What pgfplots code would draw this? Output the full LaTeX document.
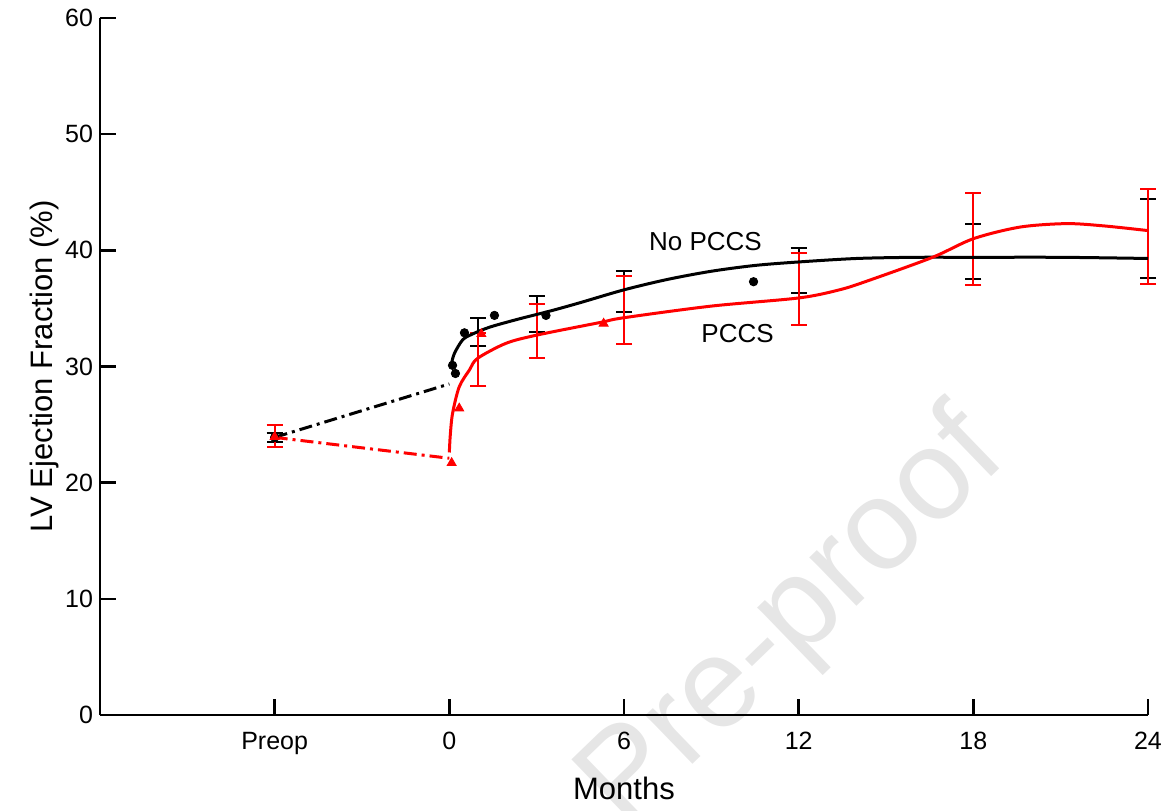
\documentclass[border=0pt]{standalone}
\usepackage{fontspec}
\setmainfont{Liberation Sans}
\usepackage{pgfplots}
\pgfplotsset{compat=1.18}
\definecolor{pccsred}{RGB}{255,0,0}
\definecolor{wmgray}{RGB}{230,230,230}

\begin{document}
\begin{tikzpicture}
  % watermark behind the chart
  \node[rotate=44, text=wmgray, font=\fontsize{64}{64}\selectfont] at (347pt,47pt) {Pre-proof};

  \begin{axis}[
    name=ax,
    at={(0,0)}, anchor=south west,
    scale only axis,
    width=524pt, height=348.5pt,
    xmin=-12, xmax=24, ymin=0, ymax=60,
    axis x line=bottom, axis y line=left,
    axis line style={-, line width=1.2pt},
    tick style={line width=1.2pt, black},
    tick align=inside,
    major tick length=8pt,
    xtick={-6,0,6,12,18,24},
    xticklabels={Preop,0,6,12,18,24},
    ytick={0,10,...,60},
    /pgf/number format/assume math mode=true,
    tick label style={font=\fontsize{12.5}{13}\selectfont},
    xticklabel style={yshift=-5pt},
    every axis x label/.style={at={(axis description cs:0.5,-0.106)}, anchor=center},
    every axis y label/.style={at={(axis description cs:-0.0525,0.5)}, rotate=90, anchor=center},
    label style={font=\fontsize{15.5}{16}\selectfont},
    xlabel={Months},
    ylabel={LV Ejection Fraction (\%)},
    clip=false,
  ]

    % extrapolation from preop to time 0
    \addplot[black, line width=1.5pt, dash pattern=on 6.5pt off 2.5pt on 1.5pt off 2.5pt]
      coordinates {(-6,23.9) (0,28.5)};
    \addplot[pccsred, line width=1.5pt, dash pattern=on 6.5pt off 2.5pt on 1.5pt off 2.5pt]
      coordinates {(-6,23.9) (0,22.1)};

    % No PCCS error bars
    \addplot[draw=none, mark=none,
      error bars/.cd, y dir=both, y explicit,
      error bar style={draw=black, line width=1pt},
      error mark options={rotate=90, mark size=4pt, line width=1pt, draw=black}]
      coordinates {
        (-6,23.9) +- (0,0.4)
        (1,33.0) +- (0,1.2)
        (3,34.55) +- (0,1.55)
        (6,36.45) +- (0,1.75)
        (12,38.25) +- (0,1.95)
        (18,39.9) +- (0,2.4)
        (24,41.0) +- (0,3.4)
      };

    % PCCS error bars
    \addplot[draw=none, mark=none,
      error bars/.cd, y dir=both, y explicit,
      error bar style={draw=pccsred, line width=1pt},
      error mark options={rotate=90, mark size=4pt, line width=1pt, draw=pccsred}]
      coordinates {
        (-6,24.05) +- (0,0.95)
        (1,30.6) +- (0,2.3)
        (3,33.05) +- (0,2.35)
        (6,34.85) +- (0,2.95)
        (12,36.7) +- (0,3.1)
        (18,40.95) +- (0,3.95)
        (24,41.2) +- (0,4.1)
      };

    % fitted curves
    \addplot[black, line width=1.5pt, smooth, tension=0.5] coordinates {
      (0.06,30.1) (0.17,31.1) (0.46,32.3) (0.8,32.8) (1.4,33.4) (2.4,34.1)
      (3.5,34.8) (4.5,35.5) (6,36.6) (7.5,37.5) (9,38.2) (10.5,38.7)
      (12,39.0) (14,39.3) (16,39.4) (18,39.4) (21,39.4) (24,39.3)
    };
    \addplot[pccsred, line width=1.5pt, smooth, tension=0.5] coordinates {
      (0,22.6) (0.03,24.0) (0.11,25.95) (0.34,28.25) (0.69,29.7) (0.97,30.7)
      (1.95,32.0) (3,32.7) (5.2,33.8) (6,34.2) (9,35.2) (12,35.9)
      (13.4,36.6) (14.4,37.4) (16.6,39.4) (18,41.0) (19.6,42.0)
      (21.2,42.3) (22.5,42.1) (24,41.7)
    };

    % observed means
    \addplot[black, only marks, mark=*, mark size=2.1pt] coordinates {
      (-6,23.9) (0.11,30.1) (0.21,29.4) (0.52,32.9) (1.55,34.4) (3.32,34.4) (10.45,37.3)
    };
    \addplot[pccsred, only marks, mark=triangle*, mark size=2.6pt] coordinates {
      (-6,23.95) (0.08,21.7) (0.34,26.4) (1.1,32.8) (5.3,33.7)
    };

    \node[font=\fontsize{13}{13}\selectfont] at (axis cs:8.8,40.73) {No PCCS};
    \node[font=\fontsize{13}{13}\selectfont] at (axis cs:9.9,32.87) {PCCS};
  \end{axis}

  \pgfresetboundingbox
  \path[use as bounding box] (-50pt,-47.5pt) rectangle (534.5pt,357.5pt);
\end{tikzpicture}
\end{document}
